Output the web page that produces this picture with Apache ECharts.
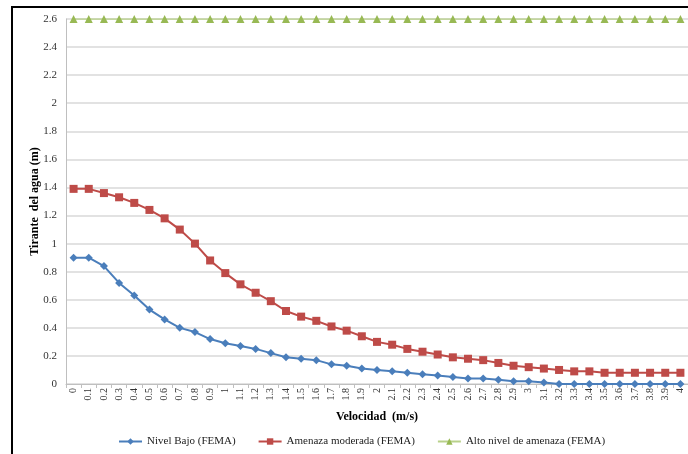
<!DOCTYPE html>
<html>
<head>
<meta charset="utf-8">
<title>Tirante del agua vs Velocidad</title>
<script src="https://cdn.jsdelivr.net/npm/echarts@6/dist/echarts.min.js"></script>
<style>
  html, body { margin: 0; padding: 0; background: #ffffff; }
  #main { width: 688px; height: 454px; }
</style>
</head>
<body>
<div id="main"></div>
<script>
// velocidad (m/s)
var velocidades = ['0', '0.1', '0.2', '0.3', '0.4', '0.5', '0.6', '0.7', '0.8', '0.9',
  '1', '1.1', '1.2', '1.3', '1.4', '1.5', '1.6', '1.7', '1.8', '1.9',
  '2', '2.1', '2.2', '2.3', '2.4', '2.5', '2.6', '2.7', '2.8', '2.9',
  '3', '3.1', '3.2', '3.3', '3.4', '3.5', '3.6', '3.7', '3.8', '3.9', '4'];

var nivelBajo = [0.90, 0.90, 0.84, 0.72, 0.63, 0.53, 0.46, 0.40, 0.37, 0.32,
  0.29, 0.27, 0.25, 0.22, 0.19, 0.18, 0.17, 0.14, 0.13, 0.11,
  0.10, 0.09, 0.08, 0.07, 0.06, 0.05, 0.04, 0.04, 0.03, 0.02,
  0.02, 0.01, 0.00, 0.00, 0.00, 0.00, 0.00, 0.00, 0.00, 0.00, 0.00];

var amenazaModerada = [1.39, 1.39, 1.36, 1.33, 1.29, 1.24, 1.18, 1.10, 1.00, 0.88,
  0.79, 0.71, 0.65, 0.59, 0.52, 0.48, 0.45, 0.41, 0.38, 0.34,
  0.30, 0.28, 0.25, 0.23, 0.21, 0.19, 0.18, 0.17, 0.15, 0.13,
  0.12, 0.11, 0.10, 0.09, 0.09, 0.08, 0.08, 0.08, 0.08, 0.08, 0.08];

var altoNivel = [2.6, 2.6, 2.6, 2.6, 2.6, 2.6, 2.6, 2.6, 2.6, 2.6,
  2.6, 2.6, 2.6, 2.6, 2.6, 2.6, 2.6, 2.6, 2.6, 2.6,
  2.6, 2.6, 2.6, 2.6, 2.6, 2.6, 2.6, 2.6, 2.6, 2.6,
  2.6, 2.6, 2.6, 2.6, 2.6, 2.6, 2.6, 2.6, 2.6, 2.6, 2.6];

var nombres = ['Nivel Bajo (FEMA)', 'Amenaza moderada (FEMA)', 'Alto nivel de amenaza (FEMA)'];

var serif = '"Liberation Serif", "DejaVu Serif", serif';

var chart = echarts.init(document.getElementById('main'), null, { renderer: 'canvas' });

var option = {
  backgroundColor: '#ffffff',
  animation: false,
  color: ['#4a7ebb', '#be4b48', '#98b954'],
  textStyle: { fontFamily: serif },
  // marco del area del grafico
  graphic: [{
    type: 'rect',
    shape: { x: 12, y: 7, width: 700, height: 470 },
    style: { fill: 'none', stroke: '#000000', lineWidth: 2 },
    silent: true
  }],
  grid: {
    left: 66,
    right: -5,
    top: 19,
    bottom: 70
  },
  legend: {
    left: 113,
    top: 431,
    itemGap: 22,
    itemWidth: 23,
    itemHeight: 8,
    textStyle: { fontFamily: serif, fontSize: 11, color: '#222222' },
    data: nombres
  },
  xAxis: {
    type: 'category',
    data: velocidades,
    boundaryGap: true,
    name: 'Velocidad  (m/s)',
    nameLocation: 'middle',
    nameGap: 27,
    nameMoveOverlap: false,
    nameTextStyle: { fontFamily: serif, fontSize: 12, fontWeight: 'bold', color: '#000000' },
    axisLine: { lineStyle: { color: '#bfbfbf', width: 1 } },
    axisTick: { show: true, length: 4, lineStyle: { color: '#bfbfbf' } },
    axisLabel: {
      interval: 0,
      rotate: 90,
      fontFamily: serif,
      fontSize: 10,
      color: '#333333',
      margin: 4
    },
    splitLine: { show: false }
  },
  yAxis: {
    type: 'value',
    min: 0,
    max: 2.6,
    interval: 0.2,
    name: 'Tirante  del agua (m)',
    nameLocation: 'middle',
    nameGap: 25,
    nameMoveOverlap: false,
    nameTextStyle: { fontFamily: serif, fontSize: 12, fontWeight: 'bold', color: '#000000' },
    axisLine: { show: true, lineStyle: { color: '#bfbfbf', width: 1 } },
    axisTick: { show: false },
    axisLabel: {
      fontFamily: serif,
      fontSize: 11,
      color: '#333333',
      margin: 9,
      formatter: function (v) { return String(Math.round(v * 10) / 10); }
    },
    splitLine: { show: true, lineStyle: { color: '#d9d9d9', width: 1.5 } }
  },
  series: [{
    name: nombres[0],
    type: 'line',
    data: nivelBajo,
    symbol: 'diamond',
    symbolSize: 8,
    lineStyle: { width: 2 },
    z: 3
  }, {
    name: nombres[1],
    type: 'line',
    data: amenazaModerada,
    symbol: 'rect',
    symbolSize: 8,
    lineStyle: { width: 2 },
    z: 2
  }, {
    name: nombres[2],
    type: 'line',
    data: altoNivel,
    symbol: 'triangle',
    symbolSize: 8,
    lineStyle: { width: 1.5, color: '#b9d18b' },
    z: 1
  }]
};

chart.setOption(option);
</script>
</body>
</html>
